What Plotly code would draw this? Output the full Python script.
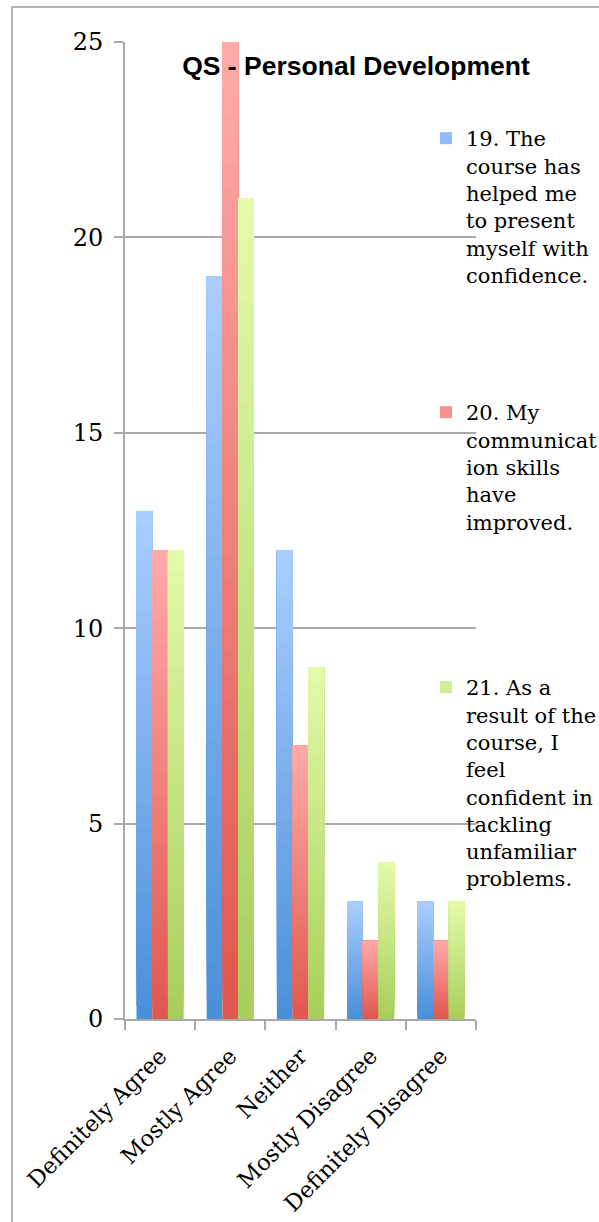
import plotly.graph_objects as go

# ---- data -------------------------------------------------------------
categories = ["Definitely Agree", "Mostly Agree", "Neither",
              "Mostly Disagree", "Definitely Disagree"]
q19_values = [13, 19, 12, 3, 3]
q20_values = [12, 25, 7, 2, 2]
q21_values = [12, 21, 9, 4, 3]
series_labels = [
    "19. The<br>course has<br>helped me<br>to present<br>myself with<br>confidence.",
    "20. My<br>communicat<br>ion skills<br>have<br>improved.",
    "21. As a<br>result of the<br>course, I<br>feel<br>confident in<br>tackling<br>unfamiliar<br>problems.",
]
title_text = "QS - Personal Development"
y_ticks = [0, 5, 10, 15, 20, 25]

# ---- styling ----------------------------------------------------------
W, H = 599, 1222
M_L, M_R, M_T, M_B = 125, 123, 42, 203
PW, PH = W - M_L - M_R, H - M_T - M_B

def px_x(px):
    return (px - M_L) / PW

def px_y(py):
    return (H - M_B - py) / PH

# (bottom colour, top colour) of the vertical gradient in each bar
gradients = [
    ((0x4A, 0x90, 0xD9), (0xAA, 0xCD, 0xFF)),
    ((0xE0, 0x58, 0x4F), (0xFF, 0xAA, 0xA8)),
    ((0xA8, 0xCF, 0x5C), (0xE2, 0xFA, 0xAA)),
]
bar_width = 0.224
bar_offsets = [-0.336, -0.112, 0.112]
legend_ids = ["legend", "legend2", "legend3"]
legend_tops = [118, 392, 667]
N_SLICES = 40
GRID = "#a9a9a9"
SERIF = "DejaVu Serif, Liberation Serif, serif"

def mix(c0, c1, t):
    return "rgb({},{},{})".format(*[round(a + (b - a) * t) for a, b in zip(c0, c1)])

fig = go.Figure()
for s, values in enumerate([q19_values, q20_values, q21_values]):
    bottom, top = gradients[s]
    # each layer runs from its own base up to the bar's value and is painted
    # over the previous one, giving a smooth bottom-to-top colour gradient
    for k in range(N_SLICES):
        t = k / (N_SLICES - 1)
        fig.add_trace(go.Bar(
            x=categories,
            y=[v * (N_SLICES - k) / N_SLICES for v in values],
            base=[v * k / N_SLICES for v in values],
            width=bar_width,
            offset=bar_offsets[s],
            marker=dict(color=mix(bottom, top, t), line=dict(width=0)),
            name=series_labels[s],
            legendgroup="s%d" % s,
            legend=legend_ids[s],
            showlegend=(k == int(N_SLICES * 0.7)),
            customdata=values,
            hovertemplate="%{x}: %{customdata}<extra></extra>",
        ))

legend_common = dict(
    xanchor="left", yanchor="top", valign="top",
    bgcolor="rgba(0,0,0,0)", borderwidth=0,
    font=dict(family=SERIF, size=21, color="#000000"),
    itemclick=False, itemdoubleclick=False,
)

fig.update_layout(
    width=W, height=H,
    margin=dict(l=M_L, r=M_R, t=M_T, b=M_B, pad=0, autoexpand=False),
    paper_bgcolor="white", plot_bgcolor="white",
    barmode="overlay",
    title=dict(
        text="<b>%s</b>" % title_text,
        x=px_x(356), xref="paper", xanchor="center",
        y=px_y(66), yref="paper", yanchor="middle",
        font=dict(family="Liberation Sans, Arial, sans-serif", size=26.5, color="#000000"),
    ),
    legend=dict(x=px_x(426), y=px_y(legend_tops[0]), **legend_common),
    legend2=dict(x=px_x(426), y=px_y(legend_tops[1]), **legend_common),
    legend3=dict(x=px_x(426), y=px_y(legend_tops[2]), **legend_common),
    xaxis=dict(
        type="category", range=[-0.5, 4.5],
        showline=True, linecolor=GRID, linewidth=2,
        ticks="outside", tickson="boundaries", ticklen=9, tickcolor=GRID, tickwidth=2,
        tickangle=-45, showgrid=False,
        tickfont=dict(family=SERIF, size=22.5, color="#000000"),
        ticklabelstandoff=13,
    ),
    yaxis=dict(
        range=[0, 25], tickvals=y_ticks,
        showline=True, linecolor=GRID, linewidth=2,
        ticks="outside", ticklen=9, tickcolor=GRID, tickwidth=2,
        showgrid=True, gridcolor=GRID, gridwidth=2, zeroline=False,
        tickfont=dict(family=SERIF, size=24, color="#000000"),
        ticklabelstandoff=6,
    ),
    shapes=[dict(
        type="rect", xref="paper", yref="paper", layer="below",
        x0=px_x(12), x1=px_x(W + 20), y0=px_y(H + 20), y1=px_y(7),
        line=dict(color="#9a9a9a", width=1.5), fillcolor="rgba(0,0,0,0)",
    )],
)

fig.write_html("out.html")
